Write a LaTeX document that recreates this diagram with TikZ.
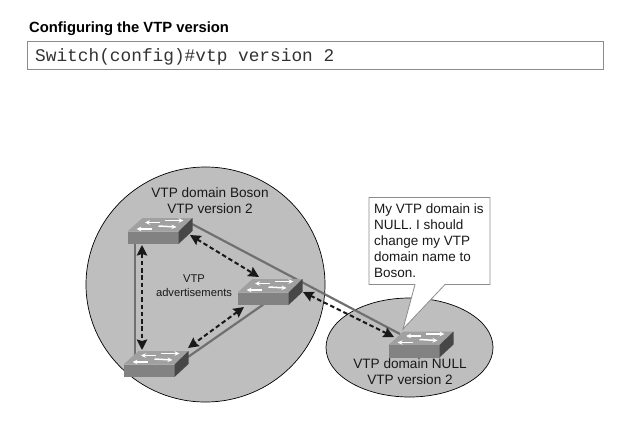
\documentclass[tikz,border=0pt]{standalone}
\usepackage{fontspec}
\setmainfont{Liberation Sans}
\newfontfamily\cmdfont{Liberation Mono}
\usetikzlibrary{arrows.meta,shapes.geometric}
\definecolor{domainfill}{HTML}{BEBEBE}
\definecolor{linkgray}{HTML}{707070}
\definecolor{boxgray}{HTML}{8C8C8C}
\definecolor{swtop}{HTML}{A0A0A0}
\definecolor{swfront}{HTML}{828282}
\definecolor{swside}{HTML}{474747}
\tikzset{
  domainarea/.style={ellipse,draw=black,line width=0.7pt,fill=domainfill,inner sep=0pt},
  netlink/.style={draw=linkgray,line width=2.2pt},
  advert/.style={draw=black!90,line width=2pt,dash pattern=on 4.5pt off 2.8pt,
    {Stealth[length=10.5pt,width=10.5pt,inset=1.5pt]}-{Stealth[length=10.5pt,width=10.5pt,inset=1.5pt]}},
  lbl/.style={inner sep=0pt,align=center,text=black!90,font=\fontsize{13.6}{16}\selectfont},
  swarrow/.style={draw=white,line width=1.5pt,-{Stealth[length=5pt,width=4.6pt]}},
}
\newcommand{\vtpswitch}[3]{%
  \begin{scope}[shift={(#2,#3)}]
    \fill[swtop] (0,0) -- (15,-13.5) -- (65,-13.5) -- (51,0) -- cycle;
    \fill[swfront] (0,0) rectangle (51,12.5);
    \fill[swside] (51,0) -- (65,-13.5) -- (65,-0.5) -- (51,12.5) -- cycle;
    \draw[swarrow] (37.5,-11) -- (56,-11);
    \draw[swarrow] (32.5,-9) -- (17.5,-9);
    \draw[swarrow] (31,-5.5) -- (49,-4.5);
    \draw[swarrow] (24.5,-2.5) -- (9,-2.5);
    \node[minimum width=51pt,minimum height=12.5pt,inner sep=0pt,anchor=north west] (#1) at (0,0) {};
  \end{scope}}
\begin{document}
\begin{tikzpicture}[x=1pt,y=-1pt]
\useasboundingbox (0,0) rectangle (642,421);
% header
\node[anchor=base west,inner sep=0pt,font=\fontsize{14.8}{16}\selectfont\bfseries] (title) at (29,32) {Configuring the VTP version};
\node[draw=boxgray,line width=0.8pt,minimum width=576pt,minimum height=28pt,inner sep=0pt,anchor=north west] (cmdbox) at (27,41) {};
\node[anchor=base west,inner sep=0pt,text=black!80,font=\fontsize{17.8}{20}\selectfont\cmdfont] (cmd) at (35,61) {Switch(config)\#vtp version 2};
% domains
\node[domainarea,minimum width=239pt,minimum height=235pt] (boson) at (205.5,284.5) {};
\node[domainarea,minimum width=167pt,minimum height=99pt] (null) at (409.5,347.5) {};
% port coordinates
\coordinate (p1r) at (192,224);
\coordinate (p4l) at (400,334);
\coordinate (p1b) at (135,240);
\coordinate (p3t) at (135,356);
\coordinate (p2b) at (264,304);
\coordinate (p3r) at (188,357);
\coordinate (a1r) at (190,235);
\coordinate (a2l) at (259,277);
\coordinate (a1b) at (142,245);
\coordinate (a3t) at (142,350);
\coordinate (a2b) at (244,307);
\coordinate (a3r) at (188,348);
\coordinate (a2r) at (303,292);
\coordinate (a4l) at (394,337);
% physical links
\draw[netlink] (p1r) -- (p4l);
\draw[netlink] (p1b) -- (p3t);
\draw[netlink] (p2b) -- (p3r);
% callout
\draw[draw=boxgray,line width=0.8pt,fill=white] (369,197.5) -- (490,197.5) -- (490,284.5) -- (445,284.5) -- (403,329) -- (415,284.5) -- (369,284.5) -- cycle;
\node[lbl,align=left,anchor=north west,font=\fontsize{13.5}{16}\selectfont] (say) at (374,204) {My VTP domain is\\NULL. I should\\change my VTP\\domain name to\\Boson.};
% switches
\vtpswitch{s1}{127.5}{231.5}
\vtpswitch{s2}{237.5}{292.5}
\vtpswitch{s3}{123.5}{364.5}
\vtpswitch{s4}{388.5}{345}
% advertisements
\draw[advert] (a1r) -- (a2l);
\draw[advert] (a1b) -- (a3t);
\draw[advert] (a2b) -- (a3r);
\draw[advert] (a2r) -- (a4l);
% labels
\node[lbl] (bosonlbl) at (210,201) {VTP domain Boson\\VTP version 2};
\node[lbl] (nulllbl) at (410,371.5) {VTP domain NULL\\VTP version 2};
\node[lbl,font=\fontsize{11.2}{13.5}\selectfont] (advlbl) at (194,285.5) {VTP\\advertisements};
\end{tikzpicture}
\end{document}
